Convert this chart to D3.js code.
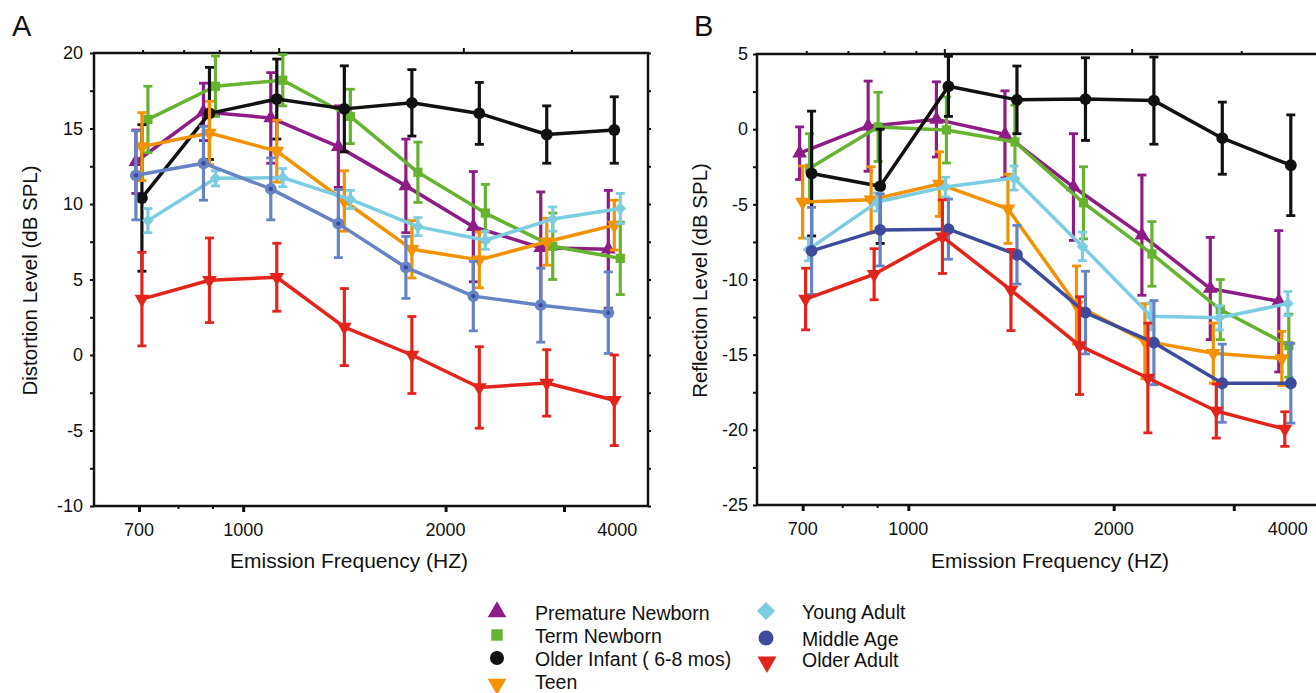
<!DOCTYPE html>
<html>
<head>
<meta charset="utf-8">
<script src="https://cdn.jsdelivr.net/npm/d3@7"></script>
<style>
  body { margin: 0; background: #fff; }
  text { font-family: "Liberation Sans", Arial, Helvetica, sans-serif; }
</style>
</head>
<body>
<div id="chart"></div>
<script>
// emission frequencies (third-octave centres)
const freqs = [707, 891, 1122, 1414, 1782, 2245, 2828, 3564];
const groups = ['Premature Newborn', 'Term Newborn', 'Older Infant ( 6-8 mos)', 'Teen', 'Young Adult', 'Middle Age', 'Older Adult'];

// A: distortion level, mean and error (dB SPL)
const premDist = [12.8, 16.1, 15.7, 13.8, 11.2, 8.5, 7.1, 7.0];
const premDistErr = [2.1, 1.9, 3.0, 2.7, 3.1, 3.65, 3.7, 3.9];
const termDist = [15.6, 17.8, 18.2, 15.8, 12.1, 9.4, 7.2, 6.4];
const termDistErr = [2.2, 2.0, 1.7, 1.8, 2.0, 1.9, 2.2, 2.4];
const infantDist = [10.4, 16.0, 16.95, 16.3, 16.7, 16.0, 14.6, 14.9];
const infantDistErr = [4.85, 3.05, 2.65, 2.85, 2.2, 2.05, 1.9, 2.2];
const teenDist = [13.8, 14.7, 13.5, 10.2, 7.0, 6.3, 7.5, 8.6];
const teenDistErr = [2.25, 2.1, 2.05, 2.0, 1.9, 1.85, 1.55, 1.65];
const youngDist = [8.9, 11.7, 11.75, 10.3, 8.5, 7.6, 9.0, 9.7];
const youngDistErr = [0.8, 0.5, 0.6, 0.6, 0.6, 0.6, 0.8, 1.0];
const middleDist = [11.9, 12.7, 11.0, 8.7, 5.8, 3.9, 3.3, 2.8];
const middleDistErr = [2.95, 2.45, 2.05, 2.25, 2.05, 2.3, 2.45, 2.7];
const olderDist = [3.7, 4.95, 5.15, 1.85, 0.0, -2.15, -1.85, -3.0];
const olderDistErr = [3.1, 2.8, 2.25, 2.55, 2.55, 2.7, 2.2, 3.0];

// B: reflection level, mean and error (dB SPL)
const premRefl = [-1.6, 0.2, 0.65, -0.35, -3.85, -7.05, -10.6, -11.45];
const premReflErr = [1.75, 3.0, 2.5, 2.9, 3.55, 4.0, 3.4, 4.7];
const termRefl = [-2.6, 0.15, -0.05, -0.85, -4.9, -8.3, -12.0, -14.4];
const termReflErr = [2.3, 2.3, 2.2, 2.45, 2.4, 2.15, 2.0, 2.1];
const infantRefl = [-2.95, -3.8, 2.85, 1.95, 2.0, 1.9, -0.6, -2.4];
const infantReflErr = [4.15, 3.8, 2.0, 2.25, 2.75, 2.9, 2.4, 3.35];
const teenRefl = [-4.85, -4.7, -3.65, -5.3, -11.7, -14.1, -14.9, -15.25];
const teenReflErr = [2.4, 2.2, 2.15, 2.3, 2.6, 2.5, 2.0, 1.8];
const youngRefl = [-8.0, -4.85, -3.85, -3.25, -7.8, -12.45, -12.55, -11.6];
const youngReflErr = [0.75, 0.6, 0.65, 0.8, 0.95, 0.9, 0.8, 0.8];
const middleRefl = [-8.1, -6.7, -6.65, -8.35, -12.2, -14.2, -16.9, -16.9];
const middleReflErr = [2.9, 2.4, 2.0, 1.95, 2.75, 2.8, 2.6, 2.65];
const olderRefl = [-11.3, -9.65, -7.15, -10.7, -14.4, -16.55, -18.75, -19.95];
const olderReflErr = [2.05, 1.7, 2.45, 2.7, 3.25, 3.65, 1.8, 1.15];

// tick values
const yTicksA = [20, 15, 10, 5, 0, -5, -10];
const yTicksB = [5, 0, -5, -10, -15, -20, -25];
const xTickMarks = [700, 800, 900, 1000, 2000, 3000];
const topTickMarks = [600, 700, 800, 900, 1000, 2000, 3000];
const xTickLabels = ['700', '1000', '2000', '4000'];
const xLabelFreqs = [700, 1000, 2000, 3600];

const W = 1316, H = 693;
const svg = d3.select('#chart').append('svg').attr('width', W).attr('height', H)
  .style('background', '#fff');

// series look
const styles = [
  { line: '#8e1c87', err: '#8e1c87', fill: '#8e1c87', shape: 'up' },
  { line: '#65b32e', err: '#65b32e', fill: '#65b32e', shape: 'square' },
  { line: '#111111', err: '#111111', fill: '#111111', shape: 'circle' },
  { line: '#f39200', err: '#f39200', fill: '#f39200', shape: 'down' },
  { line: '#7ccde2', err: '#7ccde2', fill: '#7ccde2', shape: 'diamond' },
  { line: '#6683c4', err: '#6683c4', fill: '#3d4b9d', shape: 'circle' },
  { line: '#e3241b', err: '#e3241b', fill: '#e3241b', shape: 'down' }
];

function symPath(shape, size) {
  if (shape === 'up' || shape === 'down') return d3.symbol(d3.symbolTriangle, size)();
  if (shape === 'circle') return d3.symbol(d3.symbolCircle, size)();
  return d3.symbol(d3.symbolSquare, size)();
}
function symRot(shape) {
  return shape === 'down' ? ' rotate(180)' : shape === 'diamond' ? ' rotate(45)' : '';
}
const plotSize = { up: 95, down: 95, square: 85, circle: 110, diamond: 70 };

const panels = [
  {
    letter: 'A', letterX: 12, x0: 94, x1: 648, y0: 53, y1: 506, yDomain: [-10, 20], yTicks: yTicksA,
    pad: 7, title: 'Distortion Level (dB SPL)', titleX: 37, xTitleX: 349, rightAxis: true,
    means: [premDist, termDist, infantDist, teenDist, youngDist, middleDist, olderDist],
    errs: [premDistErr, termDistErr, infantDistErr, teenDistErr, youngDistErr, middleDistErr, olderDistErr],
    offsets: [-6, 6, 0, 0, 6, -6, 0], middleLine: '#6683c4'
  },
  {
    letter: 'B', letterX: 694, x0: 757, x1: 1319, y0: 54, y1: 505, yDomain: [-25, 5], yTicks: yTicksB,
    pad: 5, title: 'Reflection Level (dB SPL)', titleX: 707, xTitleX: 1050, rightAxis: false,
    means: [premRefl, termRefl, infantRefl, teenRefl, youngRefl, middleRefl, olderRefl],
    errs: [premReflErr, termReflErr, infantReflErr, teenReflErr, youngReflErr, middleReflErr, olderReflErr],
    offsets: [-6, 4, 6, -3, 3, 6, 0], middleLine: '#3d4b9d'
  }
];

panels.forEach(p => {
  const x = d3.scaleLog().domain([600, 4000]).range([p.x0, p.x1]);
  const xTop = d3.scaleLog().domain([500, 4000]).range([p.x0, p.x1]);
  const y = d3.scaleLinear().domain(p.yDomain).range([p.y1, p.y0]);
  const g = svg.append('g');

  const yMinor = d3.range(p.yDomain[0], p.yDomain[1] + 0.01, 2.5);

  // left axis
  const ly = g.append('g').attr('transform', `translate(${p.x0},0)`)
    .call(d3.axisLeft(y).tickValues(yMinor).tickSize(4).tickPadding(p.pad)
      .tickFormat(d => p.yTicks.includes(d) ? String(d) : ''));
  ly.select('.domain').remove();
  ly.selectAll('.tick line').attr('stroke', '#111').attr('stroke-width', 2);
  ly.selectAll('.tick text').attr('font-size', 18).attr('fill', '#111')
    .attr('font-family', '"Liberation Sans", Arial, sans-serif');

  if (p.rightAxis) {
    const ry = g.append('g').attr('transform', `translate(${p.x1},0)`)
      .call(d3.axisRight(y).tickValues(yMinor).tickSize(3).tickFormat(''));
    ry.select('.domain').remove();
    ry.selectAll('.tick line').attr('stroke', '#111').attr('stroke-width', 2);
  }

  // bottom axis
  const bx = g.append('g').attr('transform', `translate(0,${p.y1})`)
    .call(d3.axisBottom(x).tickValues(xTickMarks).tickSize(6).tickFormat(''));
  bx.select('.domain').remove();
  bx.selectAll('.tick line').attr('stroke', '#111')
    .attr('stroke-width', d => (d === 800 || d === 900) ? 2 : 3)
    .attr('y2', d => (d === 800 || d === 900) ? 3 : 6);

  g.selectAll('.xlab').data(xLabelFreqs).join('text').attr('class', 'xlab')
    .attr('x', d => x(d)).attr('y', p.y1 + 30)
    .attr('text-anchor', 'middle').attr('font-size', 18).attr('fill', '#111')
    .text((d, i) => xTickLabels[i]);

  // top axis
  const tx = g.append('g').attr('transform', `translate(0,${p.y0})`)
    .call(d3.axisTop(xTop).tickValues(topTickMarks).tickSize(3).tickFormat(''));
  tx.select('.domain').remove();
  tx.selectAll('.tick line').attr('stroke', '#111').attr('stroke-width', 2)
    .attr('y2', d => (d === 1000 || d === 2000) ? -5 : -3);

  // frame
  g.append('rect').attr('x', p.x0).attr('y', p.y0)
    .attr('width', p.x1 - p.x0).attr('height', p.y1 - p.y0)
    .attr('fill', 'none').attr('stroke', '#111').attr('stroke-width', 2.5);

  // series
  groups.forEach((name, i) => {
    const st = styles[i];
    const lineColor = i === 5 ? p.middleLine : st.line;
    const pts = freqs.map((f, j) => ({ px: x(f) + p.offsets[i], m: p.means[i][j], e: p.errs[i][j] }));
    const sg = g.append('g').attr('class', 'series');

    sg.selectAll('line.eb').data(pts).join('line').attr('class', 'eb')
      .attr('x1', d => d.px).attr('x2', d => d.px)
      .attr('y1', d => y(d.m + d.e)).attr('y2', d => y(d.m - d.e))
      .attr('stroke', st.err).attr('stroke-width', 3.2);
    ['top', 'bot'].forEach(side => {
      sg.selectAll('line.cap-' + side).data(pts).join('line').attr('class', 'cap-' + side)
        .attr('x1', d => d.px - 4.5).attr('x2', d => d.px + 4.5)
        .attr('y1', d => y(side === 'top' ? d.m + d.e : d.m - d.e))
        .attr('y2', d => y(side === 'top' ? d.m + d.e : d.m - d.e))
        .attr('stroke', st.err).attr('stroke-width', 2.8);
    });

    sg.append('path').datum(pts)
      .attr('d', d3.line().x(d => d.px).y(d => y(d.m)))
      .attr('fill', 'none').attr('stroke', lineColor).attr('stroke-width', 3.5)
      .attr('stroke-linejoin', 'round');

    sg.selectAll('path.mk').data(pts).join('path').attr('class', 'mk')
      .attr('d', symPath(st.shape, plotSize[st.shape]))
      .attr('transform', d => `translate(${d.px},${y(d.m)})${symRot(st.shape)}`)
      .attr('fill', i === 5 && p.letter === 'A' ? '#6683c4' : st.fill);

    if (i === 5 && p.letter === 'A') {
      sg.selectAll('circle.dot').data(pts).join('circle').attr('class', 'dot')
        .attr('cx', d => d.px).attr('cy', d => y(d.m)).attr('r', 2.2).attr('fill', '#3d4b9d');
    }
  });

  // labels
  svg.append('text').attr('x', p.letterX).attr('y', 36).attr('font-size', 29).attr('fill', '#111').text(p.letter);
  svg.append('text').attr('transform', `translate(${p.titleX},${(p.y0 + p.y1) / 2 + 1}) rotate(-90)`)
    .attr('text-anchor', 'middle').attr('font-size', 20.5).attr('fill', '#111').text(p.title);
  svg.append('text').attr('x', p.xTitleX).attr('y', 568).attr('text-anchor', 'middle')
    .attr('font-size', 21).attr('fill', '#111').text('Emission Frequency (HZ)');
});

// legend
const legendLayout = [
  { sx: 497, sy: 612, tx: 535, ty: 620, size: 150 },
  { sx: 497, sy: 635, tx: 535, ty: 643, size: 130 },
  { sx: 497, sy: 658, tx: 535, ty: 666, size: 154 },
  { sx: 497, sy: 684, tx: 535, ty: 689, size: 150 },
  { sx: 766, sy: 611, tx: 802, ty: 619, size: 161 },
  { sx: 766, sy: 638, tx: 802, ty: 646, size: 177 },
  { sx: 767, sy: 662, tx: 802, ty: 667, size: 156 }
];
const lg = svg.append('g').attr('class', 'legend');
groups.forEach((name, i) => {
  const st = styles[i];
  const L = legendLayout[i];
  lg.append('path').attr('d', symPath(st.shape, L.size))
    .attr('transform', `translate(${L.sx},${L.sy})${symRot(st.shape)}`)
    .attr('fill', st.fill);
  lg.append('text').attr('x', L.tx).attr('y', L.ty).attr('font-size', 19.5).attr('fill', '#111').text(name);
});
</script>
</body>
</html>
